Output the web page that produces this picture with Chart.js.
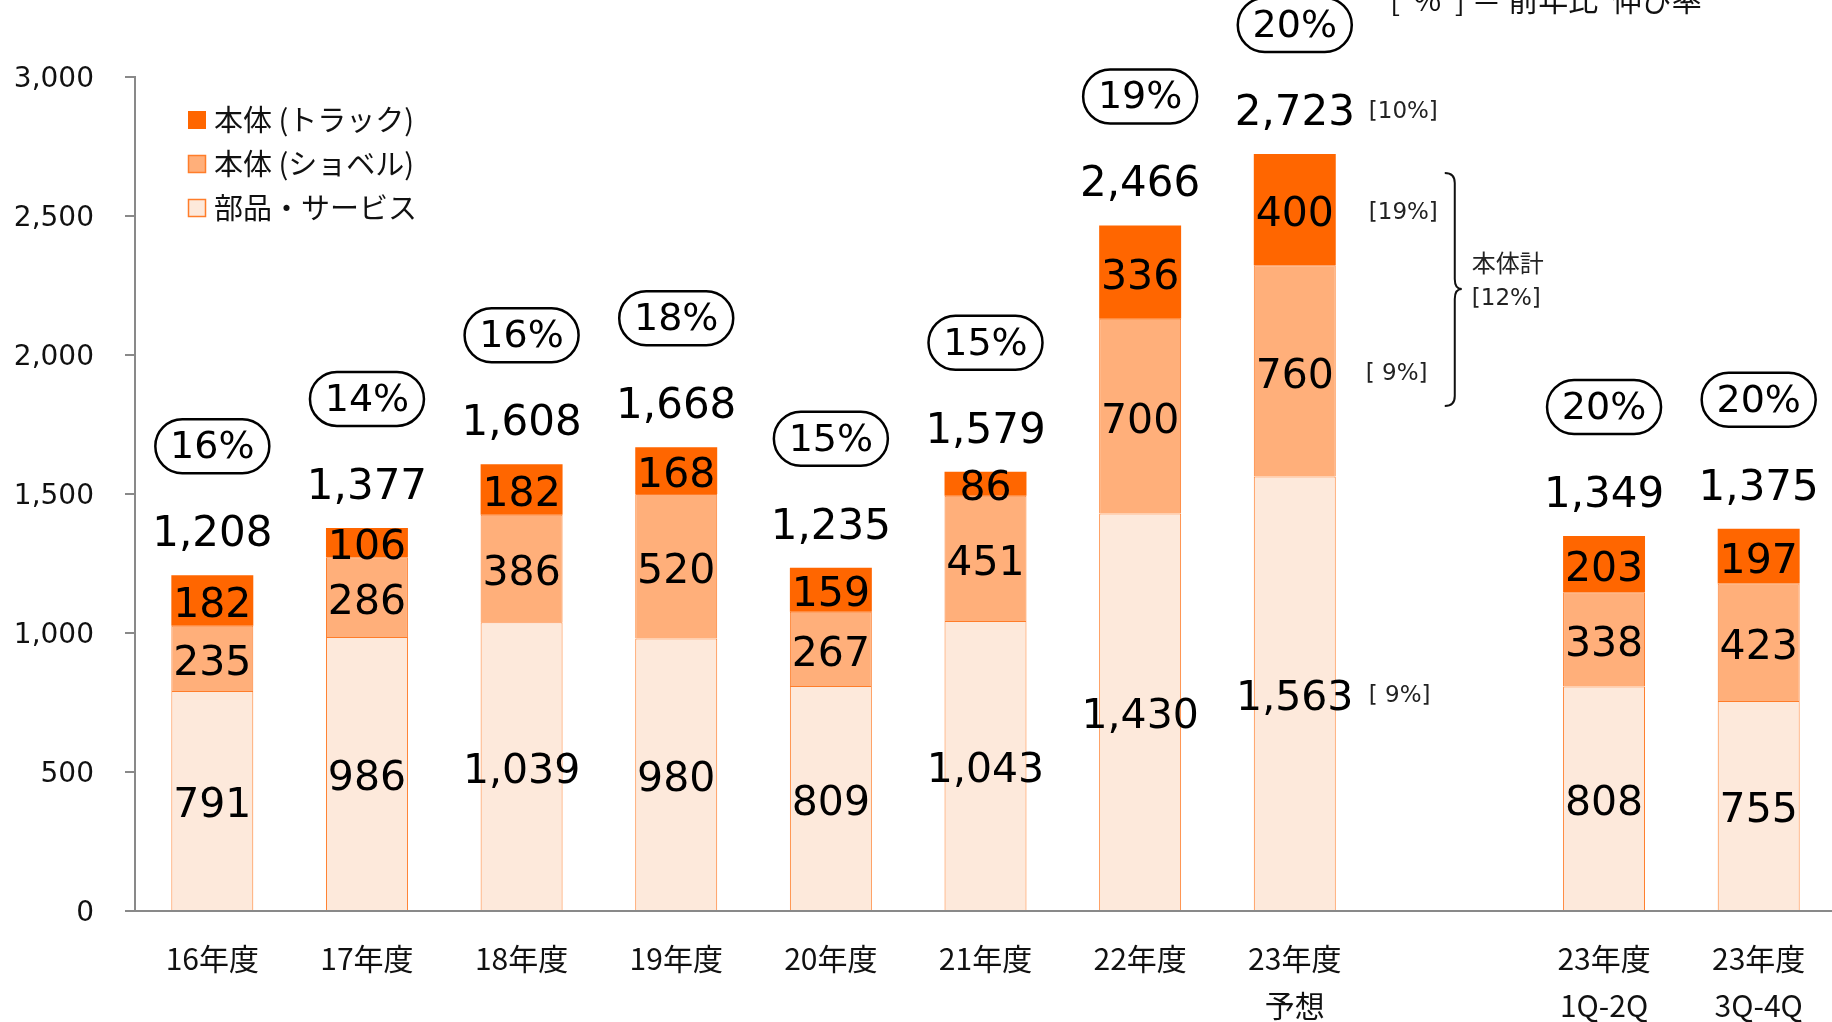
<!DOCTYPE html>
<html lang="ja">
<head>
<meta charset="utf-8">
<title>売上高推移</title>
<script src="https://cdn.jsdelivr.net/npm/chart.js@4.4.1/dist/chart.umd.min.js"></script>
<style>
  html, body { margin: 0; padding: 0; background: #fff; overflow: hidden; }
  #wrap { position: relative; width: 1836px; height: 1022px; }
</style>
</head>
<body>
<div id="wrap"><canvas id="salesChart" width="1836" height="1022"></canvas></div>
<script>
// fiscal years; the blank slot separates the full-year bars from the half-year bars
var categories = [['16年度'], ['17年度'], ['18年度'], ['19年度'], ['20年度'], ['21年度'],
                  ['22年度'], ['23年度', '予想'], [''], ['23年度', '1Q-2Q'], ['23年度', '3Q-4Q']];

// 部品・サービス / 本体 (ショベル) / 本体 (トラック)
var partsService = [791, 986, 1039, 980, 809, 1043, 1430, 1563, null, 808, 755];
var shovel       = [235, 286, 386, 520, 267, 451, 700, 760, null, 338, 423];
var truck        = [182, 106, 182, 168, 159, 86, 336, 400, null, 203, 197];

// totals as printed above each bar
var totals = [1208, 1377, 1608, 1668, 1235, 1579, 2466, 2723, null, 1349, 1375];

// share figures in the rounded boxes
var shares = ['16%', '14%', '16%', '18%', '15%', '15%', '19%', '20%', null, '20%', '20%'];

// year-on-year growth notes for the forecast bar
var forecastIndex = 7;
var growthTotal = '[10%]';
var growthTruck = '[19%]';
var growthShovel = '[ 9%]';
var growthParts = '[ 9%]';
var growthBody = '[12%]';

var yTicks = [0, 500, 1000, 1500, 2000, 2500, 3000];

var ORANGE = '#FF6600';
var LIGHT = '#FFAF7A';
var PALE = '#FDE9DB';
var EDGE = '#FF7D2A';
var AXIS = '#898989';
var NUM_FONT = '"DejaVu Sans", Verdana, sans-serif';
var JP_FONT = '"Noto Sans CJK JP", "Noto Sans", sans-serif';

function fmt(n) {
  return n.toLocaleString('en-US');
}

// draws the labels, boxes, legend and notes on top of the bars
var overlay = {
  id: 'overlay',
  afterDraw: function (chart) {
    var ctx = chart.ctx;
    var xs = chart.scales.x;
    var ys = chart.scales.y;
    ctx.save();

    // y tick labels
    ctx.fillStyle = '#111';
    ctx.font = '28px ' + NUM_FONT;
    ctx.textAlign = 'right';
    ctx.textBaseline = 'middle';
    yTicks.forEach(function (t) {
      ctx.fillText(fmt(t), 94, ys.getPixelForValue(t) + 3);
    });

    // category labels
    ctx.font = '30px ' + JP_FONT;
    ctx.textAlign = 'center';
    categories.forEach(function (lines, i) {
      var cx = xs.getPixelForValue(i);
      lines.forEach(function (s, k) {
        ctx.fillText(s, cx, 959 + k * 47);
      });
    });

    // values inside each segment
    ctx.font = '41px ' + NUM_FONT;
    ctx.fillStyle = '#000';
    chart.data.datasets.forEach(function (ds, di) {
      var meta = chart.getDatasetMeta(di);
      meta.data.forEach(function (bar, i) {
        var v = ds.data[i];
        if (v == null) return;
        var p = bar.getCenterPoint();
        ctx.fillText(fmt(v), p.x, p.y + 6);
      });
    });

    // totals and share boxes
    var meta0 = chart.getDatasetMeta(0);
    totals.forEach(function (tot, i) {
      if (tot == null) return;
      var cx = meta0.data[i].x;
      var top = ys.getPixelForValue(partsService[i] + shovel[i] + truck[i]);
      ctx.font = '42px ' + NUM_FONT;
      ctx.fillStyle = '#000';
      ctx.fillText(fmt(tot), cx, top - 40);

      var by = top - 129;
      var w = 114, h = 54;
      ctx.beginPath();
      ctx.roundRect(cx - w / 2, by - h / 2, w, h, h / 2);
      ctx.lineWidth = 2.5;
      ctx.strokeStyle = '#000';
      ctx.stroke();
      ctx.font = '38px ' + NUM_FONT;
      ctx.fillText(shares[i], cx, by + 2);
    });

    // growth notes beside the forecast bar
    var fb = meta0.data[forecastIndex];
    var nx = fb.x + 74;
    var fTop = ys.getPixelForValue(partsService[forecastIndex] + shovel[forecastIndex] + truck[forecastIndex]);
    ctx.font = '23px ' + NUM_FONT;
    ctx.fillStyle = '#222';
    ctx.textAlign = 'left';
    ctx.fillText(growthTotal, nx, fTop - 42);
    ctx.fillText(growthTruck, nx, chart.getDatasetMeta(2).data[forecastIndex].getCenterPoint().y + 3);
    ctx.fillText(growthShovel, nx - 3, chart.getDatasetMeta(1).data[forecastIndex].getCenterPoint().y + 3);
    ctx.fillText(growthParts, nx, meta0.data[forecastIndex].getCenterPoint().y + 3);

    // brace grouping the two body segments
    var bx = fb.x + 150;
    var bTop = 173, bBot = 406, bMid = 289;
    ctx.beginPath();
    ctx.moveTo(bx, bTop);
    ctx.quadraticCurveTo(bx + 10, bTop, bx + 10, bTop + 10);
    ctx.lineTo(bx + 10, bMid - 10);
    ctx.quadraticCurveTo(bx + 10, bMid, bx + 17, bMid);
    ctx.quadraticCurveTo(bx + 10, bMid, bx + 10, bMid + 10);
    ctx.lineTo(bx + 10, bBot - 10);
    ctx.quadraticCurveTo(bx + 10, bBot, bx, bBot);
    ctx.lineWidth = 2;
    ctx.strokeStyle = '#111';
    ctx.stroke();

    ctx.font = '24px ' + JP_FONT;
    ctx.fillText('本体計', bx + 27, 263);
    ctx.font = '23px ' + NUM_FONT;
    ctx.fillText(growthBody, bx + 27, 299);

    // note at top right
    ctx.font = '30px ' + JP_FONT;
    ctx.textBaseline = 'alphabetic';
    ctx.fillStyle = '#111';
    ctx.fillText('[  %  ] ＝ 前年比  伸び率', 1390, 11);

    // legend, truck first
    ctx.textBaseline = 'middle';
    var legendRows = [2, 1, 0];
    legendRows.forEach(function (di, r) {
      var ds = chart.data.datasets[di];
      var ly = 120 + r * 44;
      ctx.fillStyle = ds.backgroundColor;
      ctx.fillRect(188, ly - 9, 18, 18);
      if (ds.borderWidth) {
        ctx.lineWidth = 1.5;
        ctx.strokeStyle = EDGE;
        ctx.strokeRect(188.5, ly - 8.5, 17, 17);
      }
      ctx.fillStyle = '#111';
      ctx.font = '29px ' + JP_FONT;
      ctx.fillText(ds.label, 214, ly);
    });

    ctx.restore();
  }
};

new Chart(document.getElementById('salesChart'), {
  type: 'bar',
  data: {
    labels: categories,
    datasets: [
      { label: '部品・サービス', data: partsService, backgroundColor: PALE,
        borderColor: EDGE, borderWidth: 1 },
      { label: '本体 (ショベル)', data: shovel, backgroundColor: LIGHT,
        borderColor: EDGE, borderWidth: 1 },
      { label: '本体 (トラック)', data: truck, backgroundColor: ORANGE,
        borderWidth: 0 }
    ]
  },
  options: {
    responsive: false,
    animation: false,
    devicePixelRatio: 1,
    layout: { padding: { top: 77, right: 0, bottom: 111, left: 0 } },
    datasets: { bar: { barPercentage: 0.53, categoryPercentage: 1 } },
    plugins: {
      legend: { display: false },
      tooltip: { enabled: false }
    },
    scales: {
      x: {
        stacked: true,
        ticks: { display: false },
        grid: { display: false },
        border: { color: AXIS, width: 2 },
        afterFit: function (s) { s.height = 0; }
      },
      y: {
        stacked: true,
        min: 0,
        max: 3000,
        ticks: { display: false, stepSize: 500 },
        grid: { drawOnChartArea: false, drawTicks: true, tickLength: 10, color: AXIS, lineWidth: 2 },
        border: { color: AXIS, width: 2 },
        afterFit: function (s) { s.width = 135; }
      }
    }
  },
  plugins: [overlay]
});
</script>
</body>
</html>
